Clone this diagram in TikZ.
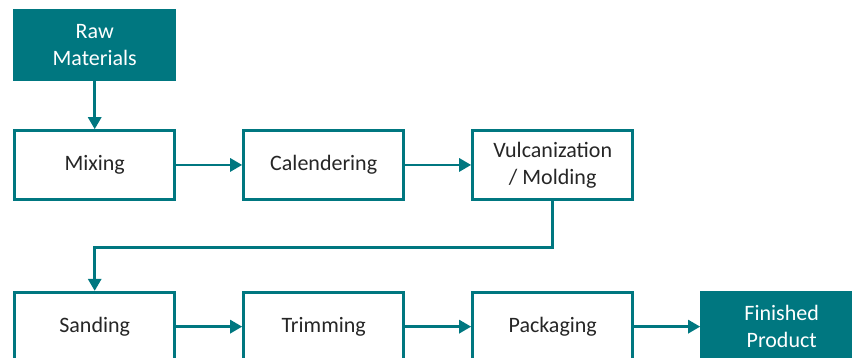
\documentclass[tikz,border=0pt]{standalone}
\usepackage{fontspec}
\setmainfont{Carlito}
\usetikzlibrary{arrows.meta}
\usetikzlibrary{positioning}
\usetikzlibrary{calc}

\definecolor{tealline}{RGB}{0,119,128}
\definecolor{textgray}{RGB}{38,38,38}

\begin{document}
\begin{tikzpicture}[
      >={Triangle[length=12pt,width=13pt]},
      stage/.style = {
        rectangle, draw = tealline, line width = 3pt, fill = white,
        minimum width = 160pt, minimum height = 68.5pt,
        align = center, text = textgray, anchor = center,
        font = \fontsize{22}{27}\selectfont
      },
      terminal/.style = { fill = tealline, text = white },
      flow/.style = { ->, draw = tealline, line width = 2.8pt },
    ]

    \useasboundingbox (-13pt,9pt) rectangle ++(852pt,-358pt);

    \matrix[nodes = { stage }, row sep = 48.5pt, column sep = 66pt,
            inner sep = 0pt, anchor = north west] at (0,0) {
      \node[terminal] (raw) {Raw\\Materials}; & & & \\
      \node (mix) {Mixing}; & \node (cal) {Calendering}; & \node (vul) {Vulcanization\\/ Molding}; & \\[41.7pt]
      \node (sand) {Sanding}; & \node (trim) {Trimming}; & \node (pack) {Packaging}; & \node[terminal] (fin) {Finished\\Product}; \\
    };

    \draw[flow] (raw) -- (mix);
    \draw[flow] (mix) -- (cal);
    \draw[flow] (cal) -- (vul);
    \draw[flow] (vul.south) -- ++(0,-46.5pt) -| (sand.north);
    \draw[flow] (sand) -- (trim);
    \draw[flow] (trim) -- (pack);
    \draw[flow] (pack) -- (fin);
  \end{tikzpicture}
\end{document}
